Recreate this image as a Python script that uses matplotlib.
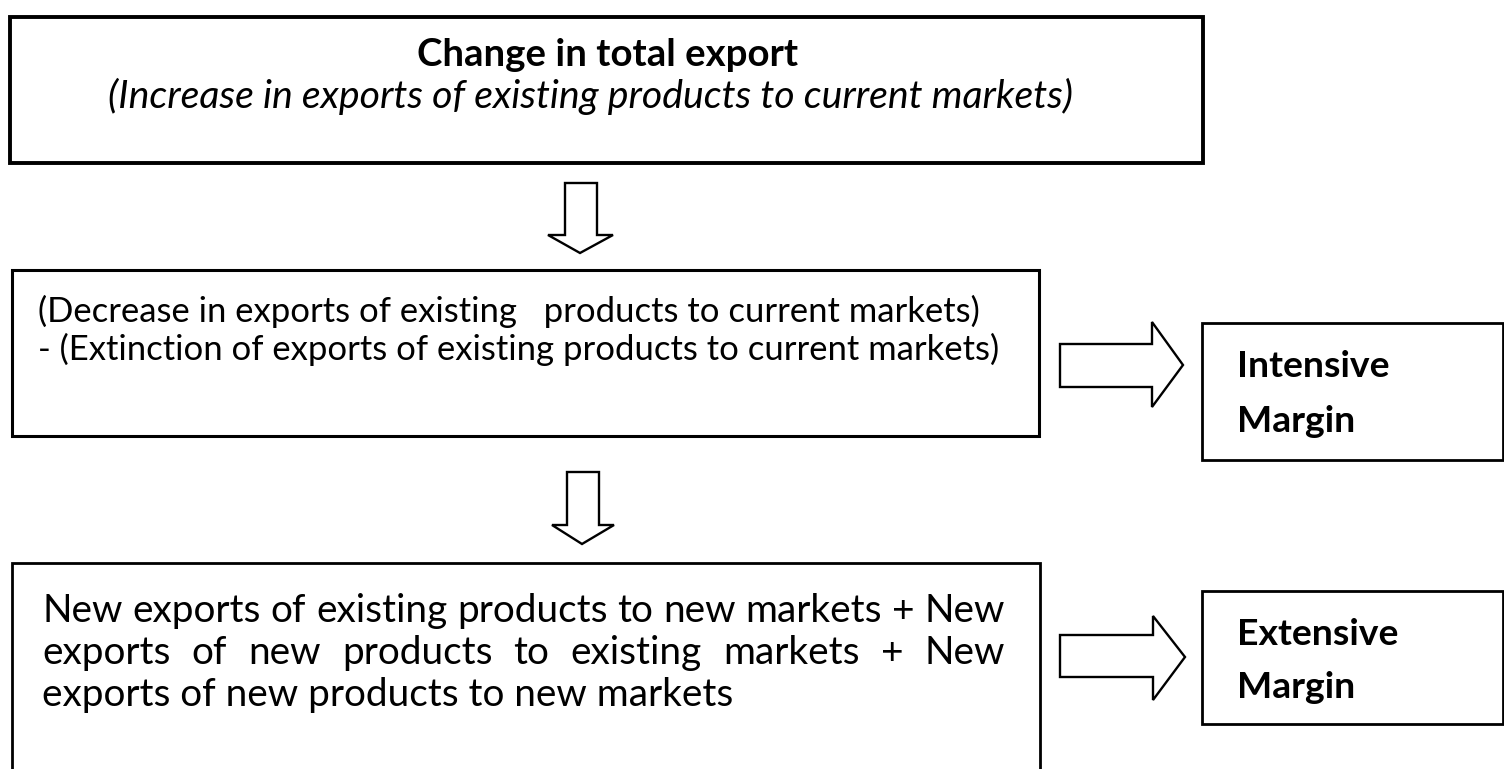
import matplotlib
matplotlib.use("Agg")
import matplotlib.pyplot as plt
from matplotlib.patches import Polygon, Rectangle
from matplotlib.lines import Line2D

W, H = 1504, 769
FONT = "Lato"

# ---- content ----
top_title = "Change in total export"
top_subtitle = "(Increase in exports of existing products to current markets)"
mid_lines = ["(Decrease in exports of existing   products to current markets)",
             "- (Extinction of exports of existing products to current markets)"]
bottom_lines = ["New exports of existing products to new markets + New",
                "exports of new products to existing markets + New",
                "exports of new products to new markets"]
margin_labels = [["Intensive", "Margin"], ["Extensive", "Margin"]]

fig = plt.figure(figsize=(W / 100, H / 100), dpi=100)
ax = fig.add_axes([0, 0, 1, 1])
ax.set_xlim(0, W)
ax.set_ylim(H, 0)
ax.axis("off")
renderer = fig.canvas.get_renderer()


def text_width(s, size, **kw):
    t = ax.text(0, 0, s, fontsize=size, family=FONT, **kw)
    bb = t.get_window_extent(renderer)
    t.remove()
    return bb.width


def fit_size(s, target, **kw):
    return 20 * target / text_width(s, 20, **kw)


def box(x0, y0, x1, y1, lw, open_bottom=False):
    if open_bottom:
        ax.add_line(Line2D([x0, x0, x1, x1], [H + 10, y0, y0, H + 10],
                           color="black", lw=lw, solid_joinstyle="miter"))
    else:
        ax.add_patch(Rectangle((x0, y0), x1 - x0, y1 - y0, fill=False,
                               edgecolor="black", lw=lw, joinstyle="miter"))


def down_arrow(x0, x1, y0, yh, hx0, hx1, tip):
    pts = [(x0, y0), (x1, y0), (x1, yh), (hx1, yh), tip, (hx0, yh), (x0, yh)]
    ax.add_patch(Polygon(pts, closed=True, facecolor="white",
                         edgecolor="black", lw=1.7, joinstyle="miter"))


def right_arrow(xs, y0, y1, xh, hy0, hy1, tip):
    pts = [(xs, y0), (xh, y0), (xh, hy0), tip, (xh, hy1), (xh, y1), (xs, y1)]
    ax.add_patch(Polygon(pts, closed=True, facecolor="white",
                         edgecolor="black", lw=1.7, joinstyle="miter"))


# ---- boxes ----
box(10, 17, 1203, 163, 2.8)
box(12, 270, 1039, 436, 2.2)
box(12, 563, 1040, None, 2.0, open_bottom=True)
box(1202, 323, 1503, 460, 2.0)
box(1202, 591, 1503, 724, 2.0)

# ---- arrows ----
down_arrow(565, 597, 183, 235, 548, 613, (580, 253))
down_arrow(567, 599, 472, 525, 552, 614, (582, 544))
right_arrow(1060, 344, 387, 1152, 322, 407, (1183, 365))
right_arrow(1060, 635, 677, 1153, 616, 700, (1185, 657))

# ---- top box text ----
s_title = fit_size(top_title, 381, weight="bold")
ax.text(608, 66, top_title, fontsize=s_title, family=FONT, weight="bold",
        ha="center", va="baseline")
s_sub = fit_size(top_subtitle, 965, style="italic")
ax.text(590, 108, top_subtitle, fontsize=s_sub, family=FONT, style="italic",
        ha="center", va="baseline")

# ---- middle box text ----
mid_left, mid_right = 38, 1000
s_mid = fit_size(mid_lines[1], mid_right - mid_left)
for txt, yb in zip(mid_lines, [322, 360]):
    ax.text(mid_left, yb, txt, fontsize=s_mid, family=FONT, ha="left", va="baseline")

# ---- bottom box text (justified) ----
x_left, x_right = 42, 1005
s_bot = fit_size(bottom_lines[0], x_right - x_left)
for i, (txt, yb) in enumerate(zip(bottom_lines, [622, 664, 706])):
    if i < 2:
        words = txt.split()
        widths = [text_width(w, s_bot) for w in words]
        gap = (x_right - x_left - sum(widths)) / (len(words) - 1)
        x = x_left
        for w, wd in zip(words, widths):
            ax.text(x, yb, w, fontsize=s_bot, family=FONT, ha="left", va="baseline")
            x += wd + gap
    else:
        ax.text(x_left, yb, txt, fontsize=s_bot, family=FONT, ha="left", va="baseline")

# ---- margin labels ----
s_marg = fit_size("Intensive", 153, weight="bold")
for labels, ys in zip(margin_labels, [(377, 432), (645, 698)]):
    for lab, yb in zip(labels, ys):
        ax.text(1237, yb, lab, fontsize=s_marg, family=FONT, weight="bold",
                ha="left", va="baseline")

fig.savefig("out.png", dpi=100, facecolor="white")
